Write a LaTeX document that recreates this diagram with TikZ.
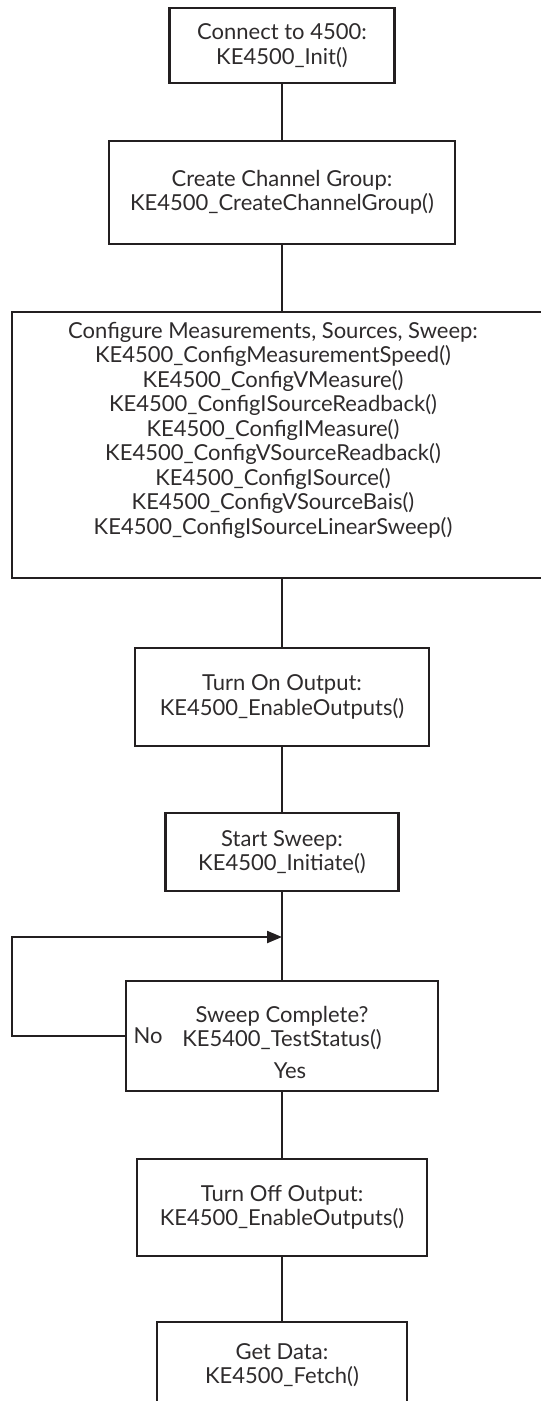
\documentclass[tikz,border=0pt]{standalone}
\usepackage{fontspec}
\setmainfont{Lato}
\usetikzlibrary{arrows.meta}
\definecolor{ink}{HTML}{231F20}
\definecolor{tink}{HTML}{2E2B2C}
\begin{document}
\begin{tikzpicture}[x=1pt,y=-1pt,
  box/.style={draw=ink, line width=2.2pt, rectangle, inner sep=0pt},
  txt/.style={align=center, text=tink, font=\fontsize{22}{24.5}\selectfont, inner sep=0pt},
  link/.style={draw=ink, line width=2.2pt},
  arr/.style={link, -{Triangle[length=15pt,width=12pt]}}]
\clip (0,0) rectangle (541,1401);
\fill[white] (0,0) rectangle (541,1401);

\node[box, txt, minimum width=225, minimum height=75] (b1) at (282,45.5)
  {Connect to 4500:\\KE4500\_Init()};
\node[box, txt, minimum width=346, minimum height=103] (b2) at (282,192.5)
  {Create Channel Group:\\KE4500\_CreateChannelGroup()};
\node[box, minimum width=548, minimum height=266] (b3) at (286,445) {};
\node[txt] (t3) at (273,430) {Configure Measurements, Sources, Sweep:\\
  KE4500\_ConfigMeasurementSpeed()\\
  KE4500\_ConfigVMeasure()\\
  KE4500\_ConfigISourceReadback()\\
  KE4500\_ConfigIMeasure()\\
  KE4500\_ConfigVSourceReadback()\\
  KE4500\_ConfigISource()\\
  KE4500\_ConfigVSourceBais()\\
  KE4500\_ConfigISourceLinearSweep()};
\node[box, txt, minimum width=294, minimum height=98] (b4) at (282,697)
  {Turn On Output:\\KE4500\_EnableOutputs()};
\node[box, txt, minimum width=233, minimum height=78] (b5) at (282,852)
  {Start Sweep:\\KE4500\_Initiate()};
\node[box, minimum width=312, minimum height=110] (b6) at (282,1036) {};
\node[txt] (t6) at (282,1028) {Sweep Complete?\\KE5400\_TestStatus()};
\node[txt] (yes) at (290,1071) {Yes};
\node[txt] (no) at (148,1036) {No};
\node[box, txt, minimum width=290, minimum height=97] (b7) at (282,1207.5)
  {Turn Off Output:\\KE4500\_EnableOutputs()};
\node[box, txt, minimum width=250, minimum height=86] (b8) at (282,1365)
  {Get Data:\\KE4500\_Fetch()};

\coordinate (m) at (282,937);
\coordinate (lc) at (12,937);

\draw[link] (b1.south) -- (b2.north);
\draw[link] (b2.south) -- (b2.south |- b3.north);
\draw[link] (b4.north |- b3.south) -- (b4.north);
\draw[link] (b4.south) -- (b5.north);
\draw[link] (b5.south) -- (b6.north);
\draw[arr] (b6.west) -| (lc) -- (m);
\draw[link] (b6.south) -- (b7.north);
\draw[link] (b7.south) -- (b8.north);
\end{tikzpicture}
\end{document}
